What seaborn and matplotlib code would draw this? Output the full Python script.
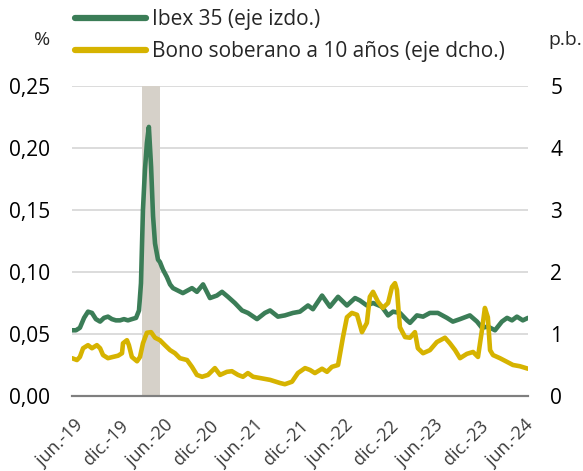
import matplotlib
matplotlib.use('Agg')
import matplotlib.pyplot as plt
import seaborn as sns
import pandas as pd

# Datos
ibex_dates = ['2019-05-24', '2019-06-09', '2019-06-25', '2019-07-12', '2019-07-28', '2019-08-13',
              '2019-08-29', '2019-09-15', '2019-10-01', '2019-10-17', '2019-11-02', '2019-11-18',
              '2019-12-05', '2019-12-21', '2020-01-06', '2020-01-22', '2020-02-08', '2020-02-20',
              '2020-02-28', '2020-03-07', '2020-03-15', '2020-03-23', '2020-03-31', '2020-04-09',
              '2020-04-17', '2020-04-25', '2020-05-07', '2020-05-15', '2020-05-27', '2020-06-12',
              '2020-06-25', '2020-07-07', '2020-07-27', '2020-08-16', '2020-09-22', '2020-10-12',
              '2020-11-06', '2020-12-04', '2021-01-01', '2021-01-22', '2021-02-15', '2021-03-15',
              '2021-04-13', '2021-05-07', '2021-06-13', '2021-07-15', '2021-08-05', '2021-09-06',
              '2021-10-04', '2021-11-06', '2021-12-04', '2022-01-06', '2022-01-26', '2022-03-04',
              '2022-04-05', '2022-05-08', '2022-06-13', '2022-07-16', '2022-08-05', '2022-09-02',
              '2022-09-27', '2022-11-02', '2022-11-27', '2022-12-17', '2023-01-14', '2023-02-12',
              '2023-02-24', '2023-03-24', '2023-04-18', '2023-05-16', '2023-06-17', '2023-07-24',
              '2023-08-17', '2023-09-15', '2023-10-25', '2023-11-23', '2023-12-13', '2024-01-06',
              '2024-02-04', '2024-03-03', '2024-03-24', '2024-04-13', '2024-05-03', '2024-05-27',
              '2024-06-17']
ibex_vol = [0.053, 0.053, 0.055, 0.063, 0.068, 0.067, 0.062, 0.060, 0.063, 0.064, 0.062, 0.061,
            0.061, 0.062, 0.061, 0.062, 0.063, 0.069, 0.091, 0.150, 0.182, 0.204, 0.217, 0.185,
            0.145, 0.123, 0.110, 0.108, 0.102, 0.096, 0.090, 0.087, 0.085, 0.083, 0.087, 0.084,
            0.090, 0.079, 0.081, 0.084, 0.080, 0.075, 0.069, 0.067, 0.062, 0.067, 0.069, 0.064,
            0.065, 0.067, 0.068, 0.073, 0.070, 0.081, 0.072, 0.080, 0.073, 0.079, 0.077, 0.073,
            0.075, 0.072, 0.065, 0.068, 0.067, 0.061, 0.059, 0.065, 0.064, 0.067, 0.067, 0.063,
            0.060, 0.062, 0.065, 0.060, 0.055, 0.056, 0.053, 0.060, 0.063, 0.061, 0.064, 0.061,
            0.063]

bono_dates = ['2019-05-24', '2019-06-13', '2019-06-25', '2019-07-08', '2019-07-28', '2019-08-13',
              '2019-09-02', '2019-09-15', '2019-09-27', '2019-10-17', '2019-11-06', '2019-11-27',
              '2019-12-13', '2019-12-17', '2020-01-02', '2020-01-10', '2020-01-22', '2020-02-12',
              '2020-02-24', '2020-03-07', '2020-03-23', '2020-04-09', '2020-04-25', '2020-05-15',
              '2020-06-04', '2020-06-25', '2020-07-15', '2020-08-04', '2020-09-02', '2020-09-22',
              '2020-10-12', '2020-11-02', '2020-11-26', '2020-12-24', '2021-01-14', '2021-02-11',
              '2021-03-03', '2021-03-28', '2021-04-17', '2021-05-07', '2021-05-28', '2021-06-25',
              '2021-08-05', '2021-09-14', '2021-10-04', '2021-11-02', '2021-11-26', '2021-12-25',
              '2022-01-14', '2022-02-03', '2022-03-04', '2022-03-24', '2022-04-13', '2022-05-08',
              '2022-05-28', '2022-06-13', '2022-07-03', '2022-07-24', '2022-08-13', '2022-09-02',
              '2022-09-14', '2022-09-27', '2022-10-17', '2022-11-06', '2022-11-27', '2022-12-13',
              '2022-12-25', '2023-01-02', '2023-01-14', '2023-02-04', '2023-02-24', '2023-03-16',
              '2023-03-28', '2023-04-18', '2023-05-16', '2023-06-13', '2023-07-16', '2023-08-05',
              '2023-08-26', '2023-09-15', '2023-10-13', '2023-11-07', '2023-11-27', '2023-12-13',
              '2023-12-25', '2024-01-06', '2024-01-15', '2024-01-27', '2024-02-24', '2024-03-24',
              '2024-04-17', '2024-05-15', '2024-06-17']
bono_vol = [0.61, 0.58, 0.63, 0.77, 0.82, 0.77, 0.82, 0.77, 0.66, 0.61, 0.63, 0.65,
            0.69, 0.85, 0.90, 0.82, 0.63, 0.56, 0.63, 0.85, 1.02, 1.03, 0.94, 0.90,
            0.82, 0.74, 0.69, 0.61, 0.58, 0.47, 0.34, 0.31, 0.34, 0.45, 0.34, 0.39,
            0.40, 0.34, 0.31, 0.37, 0.31, 0.29, 0.26, 0.21, 0.19, 0.23, 0.37, 0.45,
            0.42, 0.37, 0.44, 0.39, 0.47, 0.50, 0.95, 1.27, 1.34, 1.31, 1.03, 1.18,
            1.60, 1.68, 1.52, 1.42, 1.50, 1.76, 1.82, 1.71, 1.11, 0.95, 0.94, 1.03,
            0.77, 0.69, 0.74, 0.87, 0.94, 0.85, 0.74, 0.61, 0.68, 0.71, 0.63, 1.06,
            1.42, 1.27, 0.74, 0.66, 0.61, 0.55, 0.50, 0.48, 0.44]

band_start = '2020-03-03'
band_end = '2020-05-15'

tick_dates = ['2019-06-01', '2019-12-01', '2020-06-01', '2020-12-01', '2021-06-01', '2021-12-01',
              '2022-06-01', '2022-12-01', '2023-06-01', '2023-12-01', '2024-06-01']
tick_labels = ['jun.-19', 'dic.-19', 'jun.-20', 'dic.-20', 'jun.-21', 'dic.-21',
               'jun.-22', 'dic.-22', 'jun.-23', 'dic.-23', 'jun.-24']
left_ticks = [0.00, 0.05, 0.10, 0.15, 0.20, 0.25]
right_ticks = [0, 1, 2, 3, 4, 5]

GREEN = '#3b7d57'
YELLOW = '#d6b300'

sns.set_theme(style='white')
plt.rcParams['font.family'] = ['Open Sans', 'DejaVu Sans']

ibex = pd.DataFrame({'fecha': pd.to_datetime(ibex_dates), 'valor': ibex_vol})
bono = pd.DataFrame({'fecha': pd.to_datetime(bono_dates), 'valor': bono_vol})

fig = plt.figure(figsize=(5.83, 4.71), dpi=100)
ax = fig.add_axes([72 / 583, 1 - 396 / 471, 456 / 583, 310 / 471])
ax2 = ax.twinx()

ax.axvspan(pd.Timestamp(band_start), pd.Timestamp(band_end), color='#d6d1c9', lw=0, zorder=1)
sns.lineplot(data=ibex, x='fecha', y='valor', ax=ax, color=GREEN, lw=3.3, zorder=3,
             label='Ibex 35 (eje izdo.)', legend=False)
sns.lineplot(data=bono, x='fecha', y='valor', ax=ax2, color=YELLOW, lw=3.3, zorder=3,
             label='Bono soberano a 10 años (eje dcho.)', legend=False)
for line in ax.get_lines() + ax2.get_lines():
    line.set_solid_joinstyle('round')
    line.set_solid_capstyle('round')

ax.set_xlim(pd.Timestamp('2019-05-24'), pd.Timestamp('2024-06-17'))
ax.set_ylim(0, 0.25)
ax2.set_ylim(0, 5)
ax.set_xlabel('')
ax.set_ylabel('')
ax2.set_ylabel('')

ax.set_yticks(left_ticks)
ax.set_yticklabels([f'{v:.2f}'.replace('.', ',') for v in left_ticks])
ax2.set_yticks(right_ticks)
ax2.set_yticklabels([str(v) for v in right_ticks])
ax.set_xticks(pd.to_datetime(tick_dates))
ax.set_xticklabels(tick_labels, rotation=45, ha='right', rotation_mode='anchor')

ax.set_axisbelow(True)
ax.yaxis.grid(True, color='#dcdcdc', lw=1.4)
ax.xaxis.grid(False)
for a in (ax, ax2):
    for side in ('top', 'left', 'right'):
        a.spines[side].set_visible(False)
    a.spines['bottom'].set_color('#7f7f7f')
    a.spines['bottom'].set_linewidth(1.5)
ax.tick_params(axis='y', length=0, pad=16, labelsize=15, labelcolor='black')
ax2.tick_params(axis='y', length=0, pad=16, labelsize=15, labelcolor='black')
ax.tick_params(axis='x', length=0, pad=15, labelsize=13, labelcolor='#3a3a3a')

fig.text(42 / 583, 1 - 40 / 471, '%', fontsize=14, ha='center', va='center')
fig.text(548 / 583, 1 - 40 / 471, 'p.b.', fontsize=14, ha='left', va='center')

handles = ax.get_lines()[:1] + ax2.get_lines()[:1]
leg = fig.legend(handles=handles, labels=[h.get_label() for h in handles],
                 loc='upper left', bbox_to_anchor=(75 / 583, 1 - 9 / 471),
                 frameon=False, fontsize=15, handlelength=3.4, handletextpad=0.3,
                 labelspacing=0.55, borderpad=0, borderaxespad=0)
for line in leg.get_lines():
    line.set_linewidth(4.5)

fig.savefig('out.png', dpi=100)
